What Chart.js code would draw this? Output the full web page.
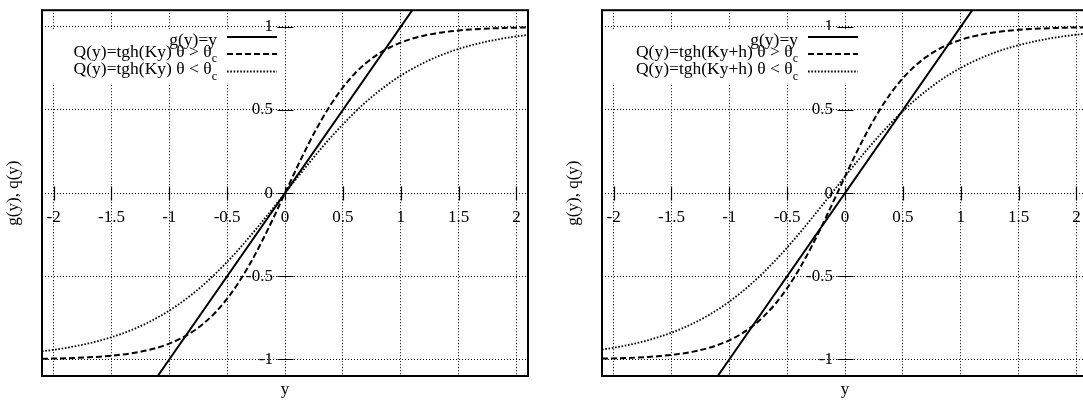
<!DOCTYPE html>
<html>
<head>
<meta charset="utf-8">
<script src="https://cdn.jsdelivr.net/npm/chart.js@4/dist/chart.umd.min.js"></script>
<style>
html,body{margin:0;padding:0;background:#fff;overflow:hidden;width:1083px;height:402px}
#wrap{position:relative;width:1083px;height:402px;overflow:hidden;background:#fff}
canvas{position:absolute;top:0}
</style>
</head>
<body>
<div id="wrap">
<canvas id="c1" width="560" height="402" style="left:0;width:560px;height:402px"></canvas>
<canvas id="c2" width="560" height="402" style="left:560px;width:560px;height:402px"></canvas>
</div>
<script>
// ---- data ----
const xValues = [-2.1,-2,-1.9,-1.8,-1.7,-1.6,-1.5,-1.4,-1.3,-1.2,-1.1,-1,-0.9,-0.8,-0.7,-0.6,-0.5,-0.4,-0.3,-0.2,-0.1,0,0.1,0.2,0.3,0.4,0.5,0.6,0.7,0.8,0.9,1,1.1,1.2,1.3,1.4,1.5,1.6,1.7,1.8,1.9,2,2.1];

// g(y)=y straight line end points
const identityX = [-1.1, 1.1];
const identityY = [-1.1, 1.1];

// left panel: Q(y)=tgh(Ky), theta > theta_c (dashed)
const leftHigh = [-0.9963,-0.9951,-0.9933,-0.9910,-0.9879,-0.9837,-0.9780,-0.9705,-0.9603,-0.9468,-0.9289,-0.9051,-0.8741,-0.8337,-0.7818,-0.7163,-0.6351,-0.5370,-0.4219,-0.2913,-0.1489,0,0.1489,0.2913,0.4219,0.5370,0.6351,0.7163,0.7818,0.8337,0.8741,0.9051,0.9289,0.9468,0.9603,0.9705,0.9780,0.9837,0.9879,0.9910,0.9933,0.9951,0.9963];
// left panel: Q(y)=tgh(Ky), theta < theta_c (dotted)
const leftLow = [-0.9516,-0.9425,-0.9318,-0.9192,-0.9044,-0.8871,-0.8668,-0.8432,-0.8158,-0.7841,-0.7478,-0.7064,-0.6596,-0.6069,-0.5484,-0.4839,-0.4136,-0.3382,-0.2581,-0.1742,-0.0878,0,0.0878,0.1742,0.2581,0.3382,0.4136,0.4839,0.5484,0.6069,0.6596,0.7064,0.7478,0.7841,0.8158,0.8432,0.8668,0.8871,0.9044,0.9192,0.9318,0.9425,0.9516];

// right panel: Q(y)=tgh(Ky+h), theta > theta_c (dashed)
const rightHigh = [-0.9955,-0.9940,-0.9919,-0.9890,-0.9852,-0.9801,-0.9732,-0.9640,-0.9518,-0.9354,-0.9138,-0.8854,-0.8483,-0.8005,-0.7398,-0.6640,-0.5717,-0.4621,-0.3364,-0.1974,-0.0500,0.0997,0.2449,0.3799,0.5005,0.6044,0.6911,0.7616,0.8178,0.8617,0.8957,0.9217,0.9414,0.9562,0.9674,0.9757,0.9820,0.9866,0.9901,0.9926,0.9945,0.9960,0.9970];
// right panel: Q(y)=tgh(Ky+h), theta < theta_c (dotted)
const rightLow = [-0.9412,-0.9302,-0.9173,-0.9022,-0.8845,-0.8638,-0.8397,-0.8117,-0.7795,-0.7425,-0.7004,-0.6527,-0.5993,-0.5399,-0.4746,-0.4037,-0.3275,-0.2468,-0.1625,-0.0759,0.0120,0.0997,0.1858,0.2692,0.3487,0.4235,0.4930,0.5567,0.6144,0.6663,0.7124,0.7531,0.7887,0.8197,0.8466,0.8697,0.8896,0.9066,0.9211,0.9334,0.9438,0.9527,0.9602];

const xTicks = [-2,-1.5,-1,-0.5,0,0.5,1,1.5,2];
const yTicks = [-1,-0.5,0,0.5,1];

const leftLabels = ['g(y)=y', 'Q(y)=tgh(Ky) θ > θ_c', 'Q(y)=tgh(Ky) θ < θ_c'];
const rightLabels = ['g(y)=y', 'Q(y)=tgh(Ky+h) θ > θ_c', 'Q(y)=tgh(Ky+h) θ < θ_c'];

const xTitle = 'y';
const yTitle = 'g(y), q(y)';

// ---- rendering ----
const FONT = "'Liberation Serif', 'Times New Roman', serif";
const FS = 17;
Chart.defaults.font.family = FONT;
Chart.defaults.color = '#000';

const pts = (xs, ys) => xs.map((x, i) => ({x: x, y: ys[i]}));

const decor = {
  id: 'decor',
  beforeDatasetsDraw(chart, args, o) {
    const ctx = chart.ctx;
    ctx.save();
    ctx.fillStyle = '#fff';
    ctx.fillRect(o.keyBox[0], o.keyBox[1], o.keyBox[2], o.keyBox[3]);
    ctx.restore();
  },
  afterDatasetsDraw(chart, args, o) {
    const {ctx, chartArea: a, scales} = chart;
    const sx = scales.x, sy = scales.y;
    ctx.save();
    // gnuplot-style tick marks across the zero axes
    const y0 = Math.round(sy.getPixelForValue(0)) + 0.5;
    const x0 = Math.round(sx.getPixelForValue(0)) + 0.5;
    ctx.strokeStyle = '#000';
    ctx.lineWidth = 1.2;
    ctx.setLineDash([]);
    ctx.beginPath();
    sx.ticks.forEach(t => {
      const px = Math.round(sx.getPixelForValue(t.value)) + 0.5;
      ctx.moveTo(px, y0 - 7); ctx.lineTo(px, y0 + 7);
    });
    sy.ticks.forEach(t => {
      const py = Math.round(sy.getPixelForValue(t.value)) + 0.5;
      ctx.moveTo(x0 - 8, py); ctx.lineTo(x0 + 8, py);
    });
    ctx.stroke();
    // frame
    ctx.lineWidth = 2;
    ctx.strokeRect(a.left, a.top, a.right - a.left, a.bottom - a.top);
    // key
    chart.data.datasets.forEach((ds, i) => {
      const ly = o.rowY[i];
      ctx.save();
      ctx.strokeStyle = '#000';
      ctx.lineWidth = ds.borderWidth;
      ctx.setLineDash(ds.borderDash || []);
      ctx.beginPath();
      ctx.moveTo(o.sampleX[0], ly); ctx.lineTo(o.sampleX[1], ly);
      ctx.stroke();
      ctx.restore();
      const parts = ds.label.split('_');
      const main = parts[0], sub = parts[1] || '';
      ctx.font = o.keyFont + 'px ' + FONT;
      const wm = ctx.measureText(main).width;
      ctx.font = '12px ' + FONT;
      const ws = sub ? ctx.measureText(sub).width : 0;
      const start = o.textRight - wm - ws;
      const ty = ly + o.textDy[i];
      ctx.fillStyle = '#000';
      ctx.textBaseline = 'middle';
      ctx.textAlign = 'left';
      ctx.font = o.keyFont + 'px ' + FONT;
      ctx.fillText(main, start, ty);
      if (sub) {
        ctx.font = '12px ' + FONT;
        ctx.fillText(sub, start + wm, ty + 7);
      }
    });
    // axis titles
    ctx.font = FS + 'px ' + FONT;
    ctx.textAlign = 'center';
    ctx.textBaseline = 'middle';
    ctx.fillText(xTitle, (a.left + a.right) / 2, o.xTitleY);
    ctx.translate(o.yTitleX, (a.top + a.bottom) / 2);
    ctx.rotate(-Math.PI / 2);
    ctx.fillText(yTitle, 0, 0);
    ctx.restore();
  }
};

function makeChart(id, labels, high, low, keyOpts) {
  const ctx = document.getElementById(id).getContext('2d');
  return new Chart(ctx, {
    type: 'line',
    data: {
      datasets: [
        {label: labels[0], data: pts(identityX, identityY), borderColor: '#000', borderWidth: 2, borderDash: [], pointRadius: 0, tension: 0},
        {label: labels[1], data: pts(xValues, high), borderColor: '#000', borderWidth: 2, borderDash: [6, 3], pointRadius: 0, cubicInterpolationMode: 'monotone'},
        {label: labels[2], data: pts(xValues, low), borderColor: '#000', borderWidth: 1.8, borderDash: [1.6, 1.7], pointRadius: 0, cubicInterpolationMode: 'monotone'}
      ]
    },
    options: {
      responsive: false,
      maintainAspectRatio: false,
      animation: false,
      events: [],
      layout: {padding: {left: 42, top: 3, right: 32, bottom: 26}},
      plugins: {
        legend: {display: false},
        tooltip: {enabled: false},
        decor: keyOpts
      },
      scales: {
        x: {
          type: 'linear', min: -2.1, max: 2.1,
          position: {y: 0},
          afterBuildTicks: s => { s.ticks = xTicks.map(v => ({value: v})); },
          ticks: {padding: 0, autoSkip: false, maxRotation: 0, font: {size: FS}, color: '#000', callback: v => String(v)},
          grid: {color: '#000', lineWidth: 1, drawTicks: true, tickLength: 14, tickWidth: 0},
          border: {display: false, dash: [1, 2]}
        },
        y: {
          type: 'linear', min: -1.1, max: 1.1,
          // labels sit about 12px left of the zero axis, as in the reference
          position: {x: -0.104},
          afterBuildTicks: s => { s.ticks = yTicks.map(v => ({value: v})); },
          ticks: {padding: 0, autoSkip: false, font: {size: FS}, color: '#000', callback: v => String(v)},
          grid: {color: '#000', lineWidth: 1, drawTicks: true, tickLength: 0, tickWidth: 0},
          border: {display: false, dash: [1, 2]}
        }
      }
    },
    plugins: [decor]
  });
}

makeChart('c1', leftLabels, leftHigh, leftLow, {
  keyBox: [47, 30, 216, 53], rowY: [37, 54, 71.5], textDy: [3, -2, -2], keyFont: 17.5,
  textRight: 217, sampleX: [227, 277], xTitleY: 390, yTitleX: 14
});
makeChart('c2', rightLabels, rightHigh, rightLow, {
  keyBox: [47, 30, 255, 53], rowY: [37, 54, 71.5], textDy: [3, -2, -2], keyFont: 17.5,
  textRight: 238, sampleX: [248, 298], xTitleY: 390, yTitleX: 14
});
</script>
</body>
</html>
